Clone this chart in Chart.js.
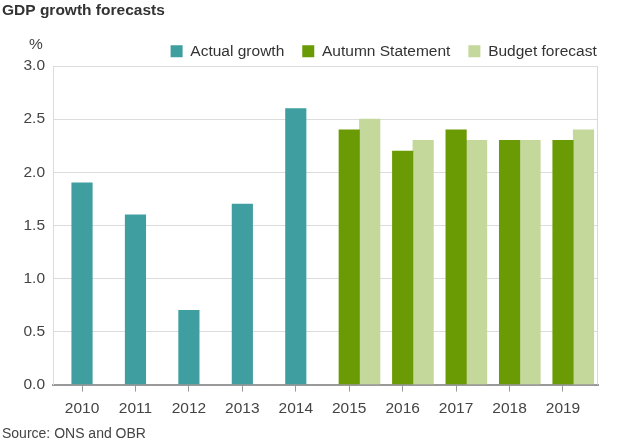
<!DOCTYPE html>
<html><head><meta charset="utf-8">
<script src="https://cdn.jsdelivr.net/npm/chart.js@4/dist/chart.umd.min.js"></script>
<style>html,body{margin:0;padding:0;background:#fff}</style>
</head><body>
<canvas id="c" width="625" height="444"></canvas>
<script>
const years = ['2010','2011','2012','2013','2014','2015','2016','2017','2018','2019'];
const actualGrowth = [1.9, 1.6, 0.7, 1.7, 2.6, null, null, null, null, null];
const autumnStatement = [null, null, null, null, null, 2.4, 2.2, 2.4, 2.3, 2.3];
const budgetForecast = [null, null, null, null, null, 2.5, 2.3, 2.3, 2.3, 2.4];
const yTickValues = [0, 0.5, 1.0, 1.5, 2.0, 2.5, 3.0];

const FONT = '"Liberation Sans", Arial, Helvetica, sans-serif';
Chart.defaults.font.family = FONT;
Chart.defaults.color = '#444';

const toXY = arr => arr.map((v, i) => ({x: i, y: v}));

const decor = {
  id: 'decor',
  beforeLayout(chart) {
    const lg = chart.legend;
    if (lg && !lg._patchedFit) {
      const f = lg.fit.bind(lg);
      lg.fit = function () { f(); this.height -= 3; };
      lg._patchedFit = true;
    }
  },
  afterLayout(chart) {
    if (chart.legend) chart.legend.right = 614.7;
  },
  beforeDatasetsDraw(chart) {
    const {ctx, chartArea: a} = chart;
    ctx.save();
    ctx.strokeStyle = '#d9d9d9';
    ctx.lineWidth = 1;
    ctx.beginPath();
    ctx.moveTo(Math.round(a.right) - 0.5, a.top);
    ctx.lineTo(Math.round(a.right) - 0.5, a.bottom);
    ctx.stroke();
    ctx.restore();
  },
  afterDraw(chart) {
    const {ctx} = chart;
    ctx.save();
    ctx.font = '15.5px ' + FONT;
    ctx.fillStyle = '#444';
    ctx.textAlign = 'center';
    ctx.textBaseline = 'middle';
    ctx.fillText('%', 36, 45);
    ctx.restore();
  }
};

new Chart(document.getElementById('c'), {
  type: 'bar',
  data: {
    datasets: [
      {label: '', data: [], stack: 's0', backgroundColor: 'rgba(0,0,0,0)'},
      {label: 'Actual growth', data: toXY(actualGrowth), stack: 's1', backgroundColor: '#3f9ea0'},
      {label: 'Autumn Statement', data: toXY(autumnStatement), stack: 's1', backgroundColor: '#6a9a04'},
      {label: 'Budget forecast', data: toXY(budgetForecast), stack: 's2', backgroundColor: '#c4d89c'}
    ]
  },
  options: {
    responsive: false,
    animation: false,
    devicePixelRatio: 1,
    barThickness: 20.5,
    layout: {padding: {left: 2, right: 27, top: 0, bottom: 1}},
    plugins: {
      title: {
        display: true, text: 'GDP growth forecasts', align: 'start',
        color: '#333', font: {size: 15.5, weight: 'bold'}, padding: {top: 1, bottom: 6}
      },
      subtitle: {
        display: true, text: 'Source: ONS and OBR', position: 'bottom', align: 'start',
        color: '#444', font: {size: 14}, padding: {top: 0, bottom: 0}
      },
      legend: {
        position: 'top', align: 'end',
        labels: {
          boxWidth: 12, boxHeight: 12, padding: 18, color: '#333',
          font: {size: 15.5},
          filter: item => item.text !== ''
        }
      },
      tooltip: {enabled: false}
    },
    scales: {
      x: {
        type: 'linear', min: -0.543, max: 9.655, stacked: true, offset: false,
        afterBuildTicks: s => { s.ticks = years.map((_, i) => ({value: i})); },
        ticks: {callback: v => years[v], font: {size: 15.5}, color: '#444', padding: 8, maxRotation: 0, autoSkip: false},
        grid: {offset: false, drawOnChartArea: false, drawTicks: true, tickLength: 7, color: '#999', lineWidth: 1},
        border: {display: true, color: '#999', width: 2}
      },
      y: {
        min: 0, max: 3, stacked: true,
        afterBuildTicks: s => { s.ticks = yTickValues.map(v => ({value: v})); },
        afterFit: s => { s.width = 51; },
        ticks: {callback: v => v.toFixed(1), font: {size: 15.5}, color: '#444', padding: 8},
        grid: {color: '#dcdcdc', drawTicks: false},
        border: {display: true, color: '#dcdcdc', width: 1}
      }
    }
  },
  plugins: [decor]
});
</script>
</body></html>
